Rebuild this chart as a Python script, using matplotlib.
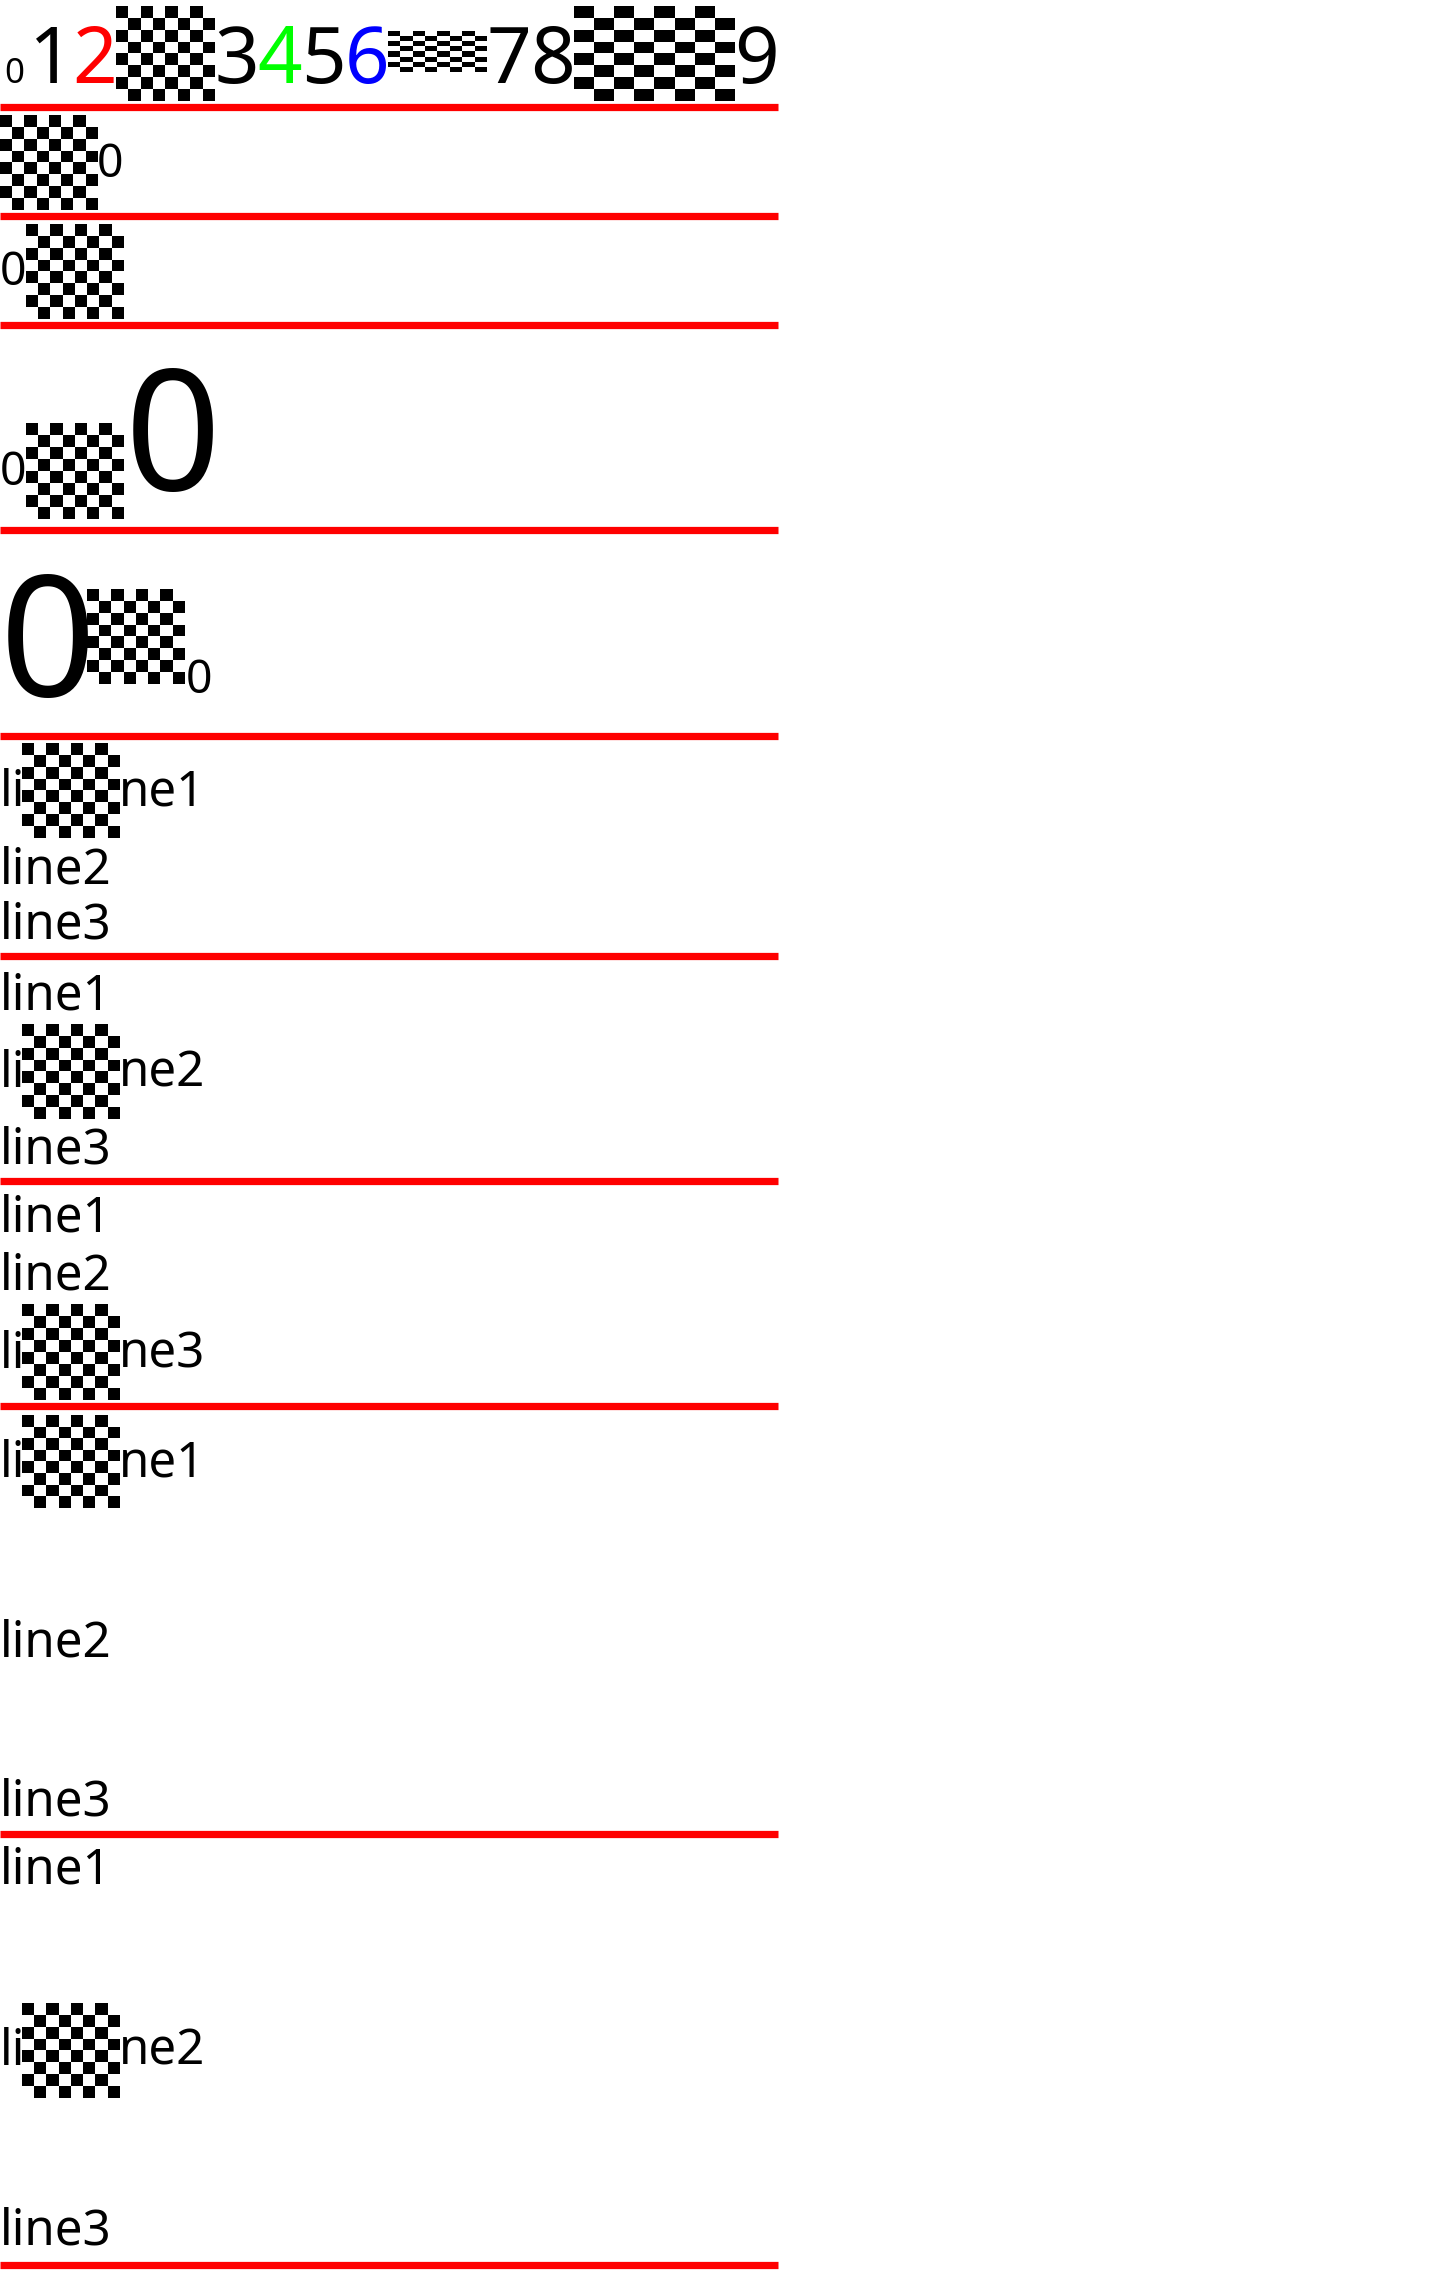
import numpy as np
import matplotlib.pyplot as plt

plt.rcParams['font.family'] = ['Noto Sans', 'DejaVu Sans']

W, H = 994, 1568          # layout units (scaled to 1440x2272 px)
S = 1440 / W              # px per unit
DPI = 100

def pt(u):
    return u * S * 72 / DPI

# red separators (y in layout units)
rule_y = [74, 149, 224, 366, 508, 660, 815, 970, 1266, 1563]

# text fragments: (text, x, baseline, size, colour, weight)
texts = [
    ('0', 3, 57, 24, 'black', 'normal'),
    ('1', 20, 57, 54, 'black', 'normal'),
    ('2', 50, 57, 54, 'red', 'bold'),
    ('3', 148, 57, 54, 'black', 'normal'),
    ('4', 178, 57, 54, '#00ff00', 'bold'),
    ('5', 208, 57, 54, 'black', 'normal'),
    ('6', 238, 57, 54, 'blue', 'normal'),
    ('7', 336, 57, 54, 'black', 'normal'),
    ('8', 366, 57, 54, 'black', 'normal'),
    ('9', 507, 57, 54, 'black', 'normal'),
    ('0', 67, 122, 32, 'black', 'normal'),
    ('0', 0, 197, 32, 'black', 'normal'),
    ('0', 0, 335, 32, 'black', 'normal'),
    ('0', 86, 338, 116, 'black', 'normal'),
    ('0', 0, 480, 116, 'black', 'normal'),
    ('0', 128, 478, 32, 'black', 'normal'),
    ('li', 0, 556, 34, 'black', 'normal'),
    ('ne1', 82, 556, 34, 'black', 'normal'),
    ('line2', 0, 610, 34, 'black', 'normal'),
    ('line3', 0, 648, 34, 'black', 'normal'),
    ('line1', 0, 697, 34, 'black', 'normal'),
    ('li', 0, 750, 34, 'black', 'normal'),
    ('ne2', 82, 750, 34, 'black', 'normal'),
    ('line3', 0, 803, 34, 'black', 'normal'),
    ('line1', 0, 850, 34, 'black', 'normal'),
    ('line2', 0, 890, 34, 'black', 'normal'),
    ('li', 0, 944, 34, 'black', 'normal'),
    ('ne3', 82, 944, 34, 'black', 'normal'),
    ('li', 0, 1019, 34, 'black', 'normal'),
    ('ne1', 82, 1019, 34, 'black', 'normal'),
    ('line2', 0, 1143, 34, 'black', 'normal'),
    ('line3', 0, 1253, 34, 'black', 'normal'),
    ('line1', 0, 1300, 34, 'black', 'normal'),
    ('li', 0, 1425, 34, 'black', 'normal'),
    ('ne2', 82, 1425, 34, 'black', 'normal'),
    ('line3', 0, 1549, 34, 'black', 'normal'),
]

# checkerboard images: (x0, x1, top, bottom)
checkers = [
    (80, 148, 5, 70),
    (268, 336, 22, 50),
    (396, 507, 5, 70),
    (0, 67, 80, 145),
    (18, 85, 155, 220),
    (18, 85, 292, 358),
    (60, 127, 407, 472),
    (15, 82, 513, 578),
    (15, 82, 707, 772),
    (15, 82, 900, 966),
    (15, 82, 977, 1041),
    (15, 82, 1383, 1448),
]

board = (np.indices((8, 8)).sum(axis=0) % 2).astype(float)

fig = plt.figure(figsize=(1440 / DPI, 2272 / DPI), dpi=DPI)
ax = fig.add_axes([0, 0, 1, 1])
ax.set_xlim(0, W)
ax.set_ylim(H, 0)
ax.axis('off')

for x0, x1, t, b in checkers:
    ax.imshow(board, cmap='gray', extent=(x0, x1, b, t), aspect='auto',
              interpolation='nearest', vmin=0, vmax=1, zorder=2)

for y in rule_y:
    ax.plot([0, 537], [y, y], color='red', lw=pt(5), solid_capstyle='butt', zorder=3)

for s, x, y, size, c, w in texts:
    ax.text(x, y, s, fontsize=pt(size), color=c, fontweight=w,
            ha='left', va='baseline', zorder=4)

ax.set_xlim(0, W)
ax.set_ylim(H, 0)
fig.savefig('out.png', dpi=DPI)
